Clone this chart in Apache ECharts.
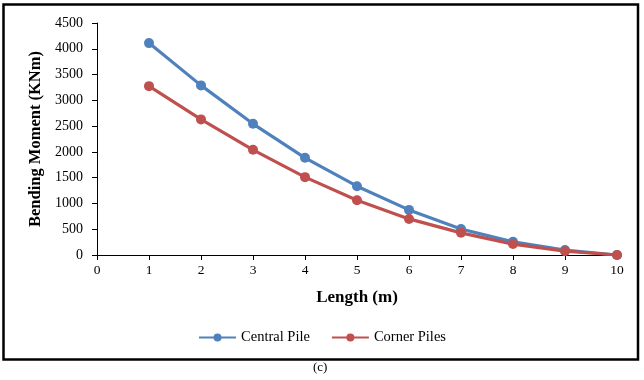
<!DOCTYPE html>
<html>
<head>
<meta charset="utf-8">
<script src="https://cdn.jsdelivr.net/npm/echarts@6/dist/echarts.min.js"></script>
<style>
  html, body { margin: 0; padding: 0; background: #fff; }
  #chart { width: 644px; height: 380px; }
</style>
</head>
<body>
<div id="chart"></div>
<script>
// pile length positions (m)
const lengths = [1, 2, 3, 4, 5, 6, 7, 8, 9, 10]
const centralPile = [4110, 3290, 2545, 1885, 1335, 875, 505, 255, 95, 0]
const cornerPiles = [3275, 2630, 2040, 1510, 1062, 700, 430, 212, 75, 0]
const seriesNames = ['Central Pile', 'Corner Piles']

const serif = '"Liberation Serif", "Times New Roman", serif'

const chart = echarts.init(document.getElementById('chart'))

function pairs(vals) {
  return lengths.map((x, i) => [x, vals[i]])
}

function lineSeries(name, vals, color) {
  return {
    name: name,
    type: 'line',
    data: pairs(vals),
    symbol: 'circle',
    symbolSize: 10,
    lineStyle: { color: color, width: 3.2 },
    itemStyle: { color: color },
    animation: false
  }
}

chart.setOption({
  backgroundColor: '#fff',
  textStyle: { fontFamily: serif },
  grid: {
    left: 97,
    right: 27,
    top: 23,
    bottom: 125
  },
  legend: {
    data: seriesNames,
    bottom: 30,
    left: 'center',
    itemWidth: 37,
    itemHeight: 10,
    itemGap: 21,
    textStyle: { fontFamily: serif, fontSize: 14.5, color: '#000' }
  },
  xAxis: {
    type: 'value',
    min: 0,
    max: 10,
    interval: 1,
    name: 'Length (m)',
    nameLocation: 'middle',
    nameGap: 34,
    nameTextStyle: { fontFamily: serif, fontSize: 17, fontWeight: 'bold', color: '#000' },
    axisLine: { lineStyle: { color: '#000', width: 1 } },
    axisTick: { show: true, length: 5, lineStyle: { color: '#000' } },
    axisLabel: { color: '#000', fontSize: 13.5, margin: 8 },
    splitLine: { show: false }
  },
  yAxis: {
    type: 'value',
    min: 0,
    max: 4500,
    interval: 500,
    name: 'Bending Moment (KNm)',
    nameLocation: 'middle',
    nameGap: 52,
    nameTextStyle: { fontFamily: serif, fontSize: 16.5, fontWeight: 'bold', color: '#000' },
    axisLine: { show: true, lineStyle: { color: '#000', width: 1 } },
    axisTick: { show: true, length: 5, lineStyle: { color: '#000' } },
    axisLabel: { color: '#000', fontSize: 14, margin: 14, formatter: v => String(v) },
    splitLine: { show: false }
  },
  graphic: [
    {
      type: 'rect',
      shape: { x: 3.5, y: 4.5, width: 634.5, height: 355 },
      style: { fill: 'none', stroke: '#000', lineWidth: 2.5 },
      silent: true
    },
    {
      type: 'text',
      left: 313,
      top: 361,
      style: { text: '(c)', font: '13px ' + serif, fill: '#000' }
    }
  ],
  series: [
    lineSeries(seriesNames[0], centralPile, '#4F81BD'),
    lineSeries(seriesNames[1], cornerPiles, '#C0504D')
  ]
})
</script>
</body>
</html>
